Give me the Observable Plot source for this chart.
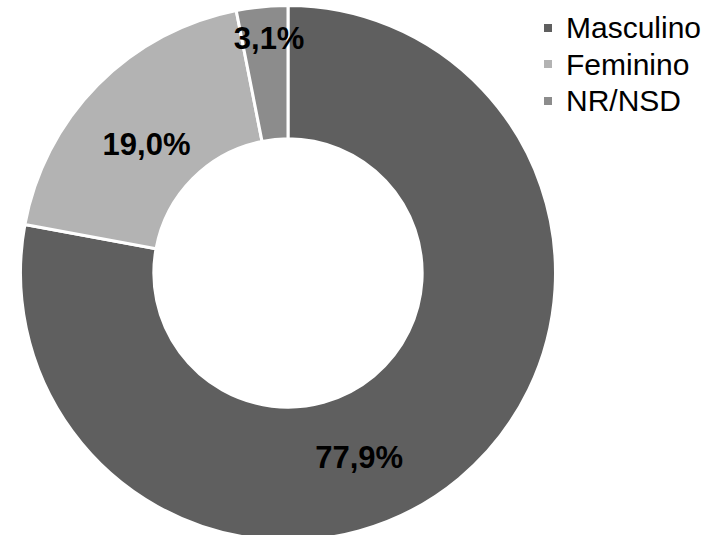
<!DOCTYPE html>
<html>
<head>
<meta charset="utf-8">
<script src="https://cdn.jsdelivr.net/npm/d3@7"></script>
<script src="https://cdn.jsdelivr.net/npm/@observablehq/plot@0.6"></script>
<style>
  body { margin: 0; background: #fff; }
  #chart { position: relative; width: 713px; height: 535px; overflow: hidden;
           font-family: "Liberation Sans", Arial, sans-serif; }
  #chart > svg { display: block; }
  #legend { position: absolute; left: 544px; top: 10px; }
</style>
</head>
<body>
<div id="chart"></div>
<script>
// Respondents by sex (share of total, %)
const categories = ["Masculino", "Feminino", "NR/NSD"];
const shares = [77.9, 19.0, 3.1];
const shareLabels = ["77,9%", "19,0%", "3,1%"];
const greys = ["#5f5f5f", "#b3b3b3", "#8c8c8c"];

const rows = categories.map((cat, i) => ({cat, share: shares[i], label: shareLabels[i]}));

// Slices start at 12 o'clock and run clockwise, in data order
const slices = d3.pie().sort(null).value(d => d.share)(rows);
slices.forEach(s => { s.mid = (s.startAngle + s.endAngle) / 2; });

const colour = Plot.scale({color: {type: "ordinal", domain: categories, range: greys}});

const hole = 0.51;       // inner radius as a fraction of the outer radius
const labelRadius = 0.75;
// per-label pixel shift from the ring's mid-line
const labelShift = {Masculino: [-57, 31], Feminino: [0, 12], "NR/NSD": [0, -36]};

// Doughnut ring, centred on the origin of the x/y scales
function ring(index, {x, y}) {
  const cx = x(0), cy = y(0), r = x(1) - x(0);
  const arc = d3.arc().innerRadius(r * hole - 1.5).outerRadius(r + 1.5);
  const g = d3.create("svg:g").attr("transform", `translate(${cx},${cy})`);
  g.selectAll("path")
    .data(slices)
    .join("path")
      .attr("d", arc)
      .attr("fill", d => colour.apply(d.data.cat))
      .attr("stroke", "#ffffff")
      .attr("stroke-width", 3)
      .attr("stroke-linejoin", "miter");
  return g.node();
}

const chart = Plot.plot({
  width: 713,
  height: 535,
  x: {domain: [-1, 1], range: [22, 554], axis: null},
  y: {domain: [-1, 1], range: [539, 7], axis: null},
  style: {fontFamily: "'Liberation Sans', Arial, sans-serif", background: "#fff"},
  marks: [
    ring,
    ...categories.map(cat => Plot.text(slices.filter(s => s.data.cat === cat), {
      x: s => labelRadius * Math.sin(s.mid),
      y: s => labelRadius * Math.cos(s.mid),
      text: s => s.data.label,
      dx: labelShift[cat][0],
      dy: labelShift[cat][1],
      fontSize: 31,
      fontWeight: "bold",
      fill: "#000",
      textAnchor: "middle",
      lineAnchor: "middle"
    }))
  ]
});

const legend = Plot.legend({
  color: {type: "ordinal", domain: categories, range: greys},
  legend: "swatches",
  columns: 1,
  swatchSize: 8,
  style: {fontFamily: "'Liberation Sans', Arial, sans-serif", fontSize: "30px", color: "#000"}
});
legend.id = "legend";
legend.querySelectorAll("svg").forEach(s => { s.style.marginRight = "14px"; });
legend.querySelectorAll("div, span").forEach(el => { el.style.lineHeight = "35.5px"; });

const root = document.getElementById("chart");
root.append(chart, legend);
</script>
</body>
</html>
